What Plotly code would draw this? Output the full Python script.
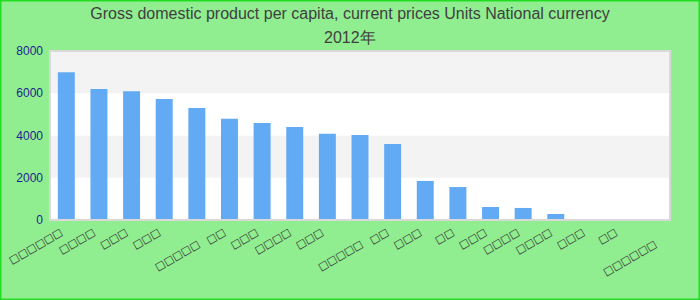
import plotly.graph_objects as go

# --- data ---
box = "\u25a1"
label_lengths = [6, 4, 3, 3, 5, 2, 3, 4, 3, 5, 2, 3, 2, 3, 4, 4, 3, 2, 6]
lowered = [4, 9, 18]  # labels drawn one line lower
categories = [("<br>" if i in lowered else "") + box * n + "\u00a0\u00a0" + "\u200b" * i
              for i, n in enumerate(label_lengths)]
values = [7000, 6200, 6100, 5730, 5300, 4790, 4590, 4400, 4080, 4020, 3600,
          1850, 1560, 615, 570, 285, 0, 0, 0]
y_ticks = [0, 2000, 4000, 6000, 8000]
title_line1 = "Gross domestic product per capita, current prices Units National currency"
title_line2 = "2012年"

W, H = 700, 300
L, R, T, B = 50, 30, 51, 80
pw, ph = W - L - R, H - T - B

fig = go.Figure()
fig.add_trace(go.Bar(x=categories, y=values, marker=dict(color="#63aaf5", line=dict(width=0)),
                     hoverinfo="y"))

shapes = []
# alternating bands
for i in range(len(y_ticks) - 1):
    shapes.append(dict(type="rect", xref="paper", yref="y", x0=0, x1=1,
                       y0=y_ticks[i], y1=y_ticks[i + 1], layer="below", line=dict(width=0),
                       fillcolor="#ffffff" if i % 2 == 0 else "#f3f3f3"))
# plot frame
shapes.append(dict(type="rect", xref="paper", yref="paper", x0=0, x1=1, y0=0, y1=1,
                   line=dict(color="#d9d9d9", width=2), layer="above"))
# outer border
shapes.append(dict(type="rect", xref="paper", yref="paper",
                   x0=-L / pw, x1=(W - L) / pw, y0=-B / ph, y1=(H - B) / ph,
                   line=dict(color="#22dd22", width=3)))

fig.update_layout(
    width=W, height=H,
    margin=dict(l=L, r=R, t=T, b=B, autoexpand=False),
    paper_bgcolor="#90ee90", plot_bgcolor="#ffffff",
    bargap=0.48, showlegend=False,
    shapes=shapes,
    title=dict(text=title_line1, x=0.5, xanchor="center", y=1 - 13 / H, yanchor="middle",
               font=dict(family="Liberation Sans, Arial, sans-serif", size=16, color="#404040")),
    annotations=[dict(text=title_line2, xref="paper", yref="paper", x=0.5 - (L - R) / 2 / pw,
                      y=(H - B - 37) / ph, xanchor="center", yanchor="middle", showarrow=False,
                      font=dict(family="Liberation Sans, Arial, sans-serif", size=16, color="#404040"))],
    xaxis=dict(tickangle=-30, showgrid=False, showline=False, zeroline=False, automargin=False,
               tickfont=dict(family="DejaVu Sans, sans-serif", size=10.5, color="#333333"),
               fixedrange=True),
    yaxis=dict(range=[0, 8000], tickvals=y_ticks, showgrid=False, zeroline=False, showline=False,
               automargin=False,
               tickfont=dict(family="Liberation Sans, Arial, sans-serif", size=12, color="#1f1f8f"),
               ticks="", ticklabelstandoff=6, fixedrange=True),
    font=dict(family="Liberation Sans, Arial, sans-serif"),
)

fig.write_html("out.html")
